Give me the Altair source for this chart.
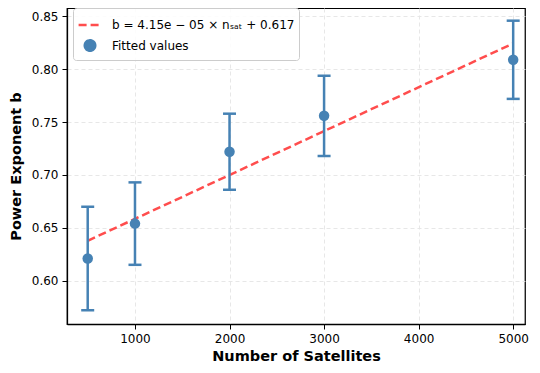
import altair as alt
import pandas as pd

# ---- data ----
n_sat = [500, 1000, 2000, 3000, 5000]
b_fit = [0.621, 0.654, 0.722, 0.756, 0.809]
b_err = [0.049, 0.039, 0.036, 0.038, 0.037]
slope = 4.15e-05
intercept = 0.617
fit_label = "b = 4.15e − 05 × nₛₐₜ + 0.617"
pts_label = "Fitted values"

x_ticks = [1000, 2000, 3000, 4000, 5000]
y_ticks = [0.60, 0.65, 0.70, 0.75, 0.80, 0.85]

RED = "#ff4d4d"
BLUE = "#4682b4"
FONT = "DejaVu Sans"

pts = pd.DataFrame({
    "n": n_sat,
    "b": b_fit,
    "lo": [v - e for v, e in zip(b_fit, b_err)],
    "hi": [v + e for v, e in zip(b_fit, b_err)],
    "series": pts_label,
})
line_df = pd.DataFrame({
    "n": [min(n_sat), max(n_sat)],
    "b": [slope * min(n_sat) + intercept, slope * max(n_sat) + intercept],
    "series": fit_label,
})

x_scale = alt.Scale(domain=[281, 5125], nice=False, zero=False)
y_scale = alt.Scale(domain=[0.559, 0.858], nice=False, zero=False)

x_axis = alt.Axis(title="Number of Satellites", values=x_ticks, format="d")
y_axis = alt.Axis(title="Power Exponent b", values=y_ticks, format=".2f")

dom = [fit_label, pts_label]
legend = alt.Legend(title=None, orient="none", legendX=6, legendY=0, labelLimit=400)
color = alt.Color("series:N", scale=alt.Scale(domain=dom, range=[RED, BLUE]), legend=legend)
dash = alt.StrokeDash("series:N", scale=alt.Scale(domain=dom, range=[[8, 4], [1, 0]]), legend=legend)
shape = alt.Shape("series:N", scale=alt.Scale(domain=dom, range=["stroke", "circle"]), legend=legend)
size = alt.Size("series:N", scale=alt.Scale(domain=dom, range=[520, 110]), legend=legend)

base_x = alt.X("n:Q", scale=x_scale, axis=x_axis)

line = alt.Chart(line_df).mark_line(strokeDash=[9, 4], strokeWidth=2.5).encode(
    x=base_x,
    y=alt.Y("b:Q", scale=y_scale, axis=y_axis),
    color=color,
    strokeDash=dash,
)

bars = alt.Chart(pts).mark_rule(color=BLUE, strokeWidth=2.5).encode(
    x=base_x,
    y=alt.Y("lo:Q", scale=y_scale, axis=y_axis),
    y2="hi:Q",
)
cap_lo = alt.Chart(pts).mark_tick(color=BLUE, orient="horizontal", size=13, thickness=2.5, opacity=1).encode(
    x=base_x, y=alt.Y("lo:Q", scale=y_scale, axis=y_axis)
)
cap_hi = alt.Chart(pts).mark_tick(color=BLUE, orient="horizontal", size=13, thickness=2.5, opacity=1).encode(
    x=base_x, y=alt.Y("hi:Q", scale=y_scale, axis=y_axis)
)
points = alt.Chart(pts).mark_point(filled=True, opacity=1).encode(
    x=base_x,
    y=alt.Y("b:Q", scale=y_scale, axis=y_axis),
    color=color,
    shape=shape,
    size=size,
)

chart = (
    alt.layer(line, bars, cap_lo, cap_hi, points)
    .properties(
        width=458,
        height=316,
        autosize=alt.AutoSizeParams(type="none"),
        padding={"left": 59, "top": 0, "right": 7, "bottom": 41},
    )
    .configure_view(stroke="black", strokeWidth=1.25)
    .configure_axis(
        labelFont=FONT,
        titleFont=FONT,
        labelFontSize=12,
        titleFontSize=14.5,
        titleFontWeight="bold",
        labelColor="#000000",
        titleColor="#000000",
        domainColor="black",
        domainWidth=1.25,
        tickColor="black",
        tickSize=5,
        tickWidth=1,
        labelPadding=4,
        grid=True,
        gridColor="#e4e4e4",
        gridDash=[4, 3],
        gridWidth=0.9,
    )
    .configure_axisX(titlePadding=5)
    .configure_axisY(titlePadding=8)
    .configure_legend(
        labelFont=FONT,
        labelFontSize=12,
        labelColor="#000000",
        fillColor="rgba(255,255,255,0.85)",
        strokeColor="#cccccc",
        cornerRadius=3,
        padding=4,
        rowPadding=4,
        symbolOffset=0,
        labelOffset=9,
        symbolStrokeWidth=2.5,
        symbolOpacity=1,
    )
)

chart.save("out.html", embed_options={"renderer": "svg", "actions": False})
